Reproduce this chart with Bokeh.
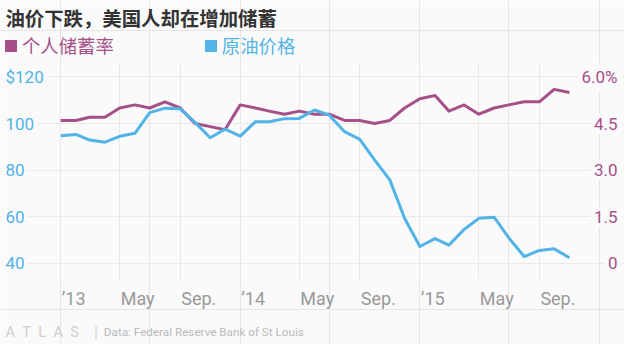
import pandas as pd
from bokeh.plotting import figure
from bokeh.models import Range1d, Grid, FixedTicker, ColumnDataSource, Legend, LegendItem
from bokeh.core.properties import value
from bokeh.embed import file_html
from bokeh.resources import INLINE

# ---------------- data ----------------
months = pd.date_range("2013-01-01", periods=35, freq="MS")
oil_price = [94.8, 95.3, 92.9, 92.0, 94.5, 95.8, 104.7, 106.6, 106.3, 100.5, 93.9, 97.6,
             94.6, 100.8, 100.8, 102.1, 102.2, 105.8, 103.6, 96.5, 93.2, 84.4, 75.8, 59.3,
             47.2, 50.6, 47.8, 54.5, 59.3, 59.8, 50.9, 42.9, 45.5, 46.2, 42.4]
saving_rate = [4.6, 4.6, 4.7, 4.7, 5.0, 5.1, 5.0, 5.2, 5.0, 4.5, 4.4, 4.3,
               5.1, 5.0, 4.9, 4.8, 4.9, 4.8, 4.8, 4.6, 4.6, 4.5, 4.6, 5.0,
               5.3, 5.4, 4.9, 5.1, 4.8, 5.0, 5.1, 5.2, 5.2, 5.6, 5.5]

left_ticks = [40, 60, 80, 100, 120]
left_labels = ["40", "60", "80", "100", "$120"]
right_ticks = [0, 1.5, 3.0, 4.5, 6.0]
right_labels = ["0", "1.5", "3.0", "4.5", "6.0%"]
x_tick_dates = pd.to_datetime(["2013-01-01", "2013-05-01", "2013-09-01",
                               "2014-01-01", "2014-05-01", "2014-09-01",
                               "2015-01-01", "2015-05-01", "2015-09-01"])
x_tick_labels = ["’13", "May", "Sep.", "’14", "May", "Sep.", "’15", "May", "Sep."]

title_text = "油价下跌，美国人却在增加储蓄"
series_names = ["个人储蓄率", "原油价格"]
logo_text = "A\u2002T\u2002L\u2002A\u2002S"
source_text = "Data: Federal Reserve Bank of St Louis"

# ---------------- style / layout ----------------
W, H = 624, 344
SX, SY = W / 640, H / 360          # reference px -> canvas px
BG = "#fafafa"
PURPLE = "#a6508a"
BLUE = "#51b3e6"
GRID = "#e9e9e9"
CJK = "Noto Sans CJK SC"
LAT = "Roboto"

X_JAN13 = 61.7 * SX                       # canvas px of 2013-01-01
PX_PER_DAY = (552.7 - 61.7) * SX / 973    # 2013-01-01 .. 2015-09-01
Y_40 = 275 * SY                           # canvas px of value 40
PX_PER_UNIT = (275 - 80) * SY / 80

jan13 = pd.Timestamp("2013-01-01")
x_start = jan13 - pd.Timedelta(days=X_JAN13 / PX_PER_DAY)
x_end = jan13 + pd.Timedelta(days=(W - X_JAN13) / PX_PER_DAY)


def y_val(c):
    return 40 + (Y_40 - c) / PX_PER_UNIT


y_lo, y_hi = y_val(H), y_val(0)
p = figure(width=W, height=H, x_range=Range1d(x_start, x_end), y_range=Range1d(y_lo, y_hi),
           x_axis_location=None, y_axis_location=None, toolbar_location=None,
           output_backend="svg", min_border=0, background_fill_color=BG,
           border_fill_color=BG, outline_line_color=None)
p.extra_y_ranges = {"pct": Range1d((y_lo - 40) * 6 / 80, (y_hi - 40) * 6 / 80)}

# grids
p.add_layout(Grid(dimension=1, ticker=FixedTicker(ticks=left_ticks),
                  grid_line_color=GRID, grid_line_width=1))
p.add_layout(Grid(dimension=0,
                  ticker=FixedTicker(ticks=[d.value / 1e6 for d in x_tick_dates]),
                  grid_line_color=GRID, grid_line_width=1,
                  cross_bounds=(y_val(292 * SY), y_val(65 * SY))))

# lines
p.line(months, saving_rate, y_range_name="pct", line_color=PURPLE, line_width=3, line_join="round")
p.line(months, oil_price, line_color=BLUE, line_width=3, line_join="round")


def txt(xs, ys, texts, **kw):
    src = ColumnDataSource(dict(x=list(xs), y=list(ys), text=list(texts)))
    return p.text("x", "y", "text", source=src, **kw)


# left tick labels
txt([x_start] * len(left_ticks), left_ticks, left_labels,
    text_font=value(LAT), text_font_size="17px", text_color=BLUE,
    text_align="left", text_baseline="middle",
    background_fill_color=BG, padding=4, x_offset=1)
# right tick labels
txt([x_end] * len(right_ticks), right_ticks, right_labels, y_range_name="pct",
    text_font=value(LAT), text_font_size="17px", text_color=PURPLE,
    text_align="right", text_baseline="middle",
    background_fill_color=BG, padding=4, x_offset=-3)
# x tick labels
txt(x_tick_dates, [y_lo] * len(x_tick_dates), x_tick_labels,
    text_font=value(LAT), text_font_size="18px", text_color="#999999",
    text_align="left", text_baseline="middle", x_offset=1, y_offset=-(H - 311.7 * SY))

# title
txt([x_start], [y_hi], [title_text], text_font=value(CJK), text_font_size="19.4px",
    text_font_style="bold", text_color="#333333", text_align="left",
    text_baseline="middle", x_offset=5 * SX, y_offset=18 * SY)

# footer
fy = -(H - 347 * SY)
txt([x_start], [y_lo], [logo_text], text_font=value(LAT), text_font_size="14.5px",
    text_color="#cfcfcf", text_align="left", text_baseline="middle", x_offset=5 * SX, y_offset=fy)
txt([x_start], [y_lo], ["|"], text_font=value(LAT), text_font_size="16px",
    text_color="#d8d8d8", text_align="left", text_baseline="middle", x_offset=96 * SX, y_offset=fy)
txt([x_start], [y_lo], [source_text], text_font=value(LAT), text_font_size="11.7px",
    text_color="#bbbbbb", text_align="left", text_baseline="middle", x_offset=106 * SX, y_offset=fy)

# legend (two separate legends so each label has its own colour); zero-area swatch glyphs
sw_p = p.quad(left=[x_start], right=[x_start], top=[y_lo], bottom=[y_lo],
              fill_color=PURPLE, line_color=None)
sw_b = p.quad(left=[x_start], right=[x_start], top=[y_lo], bottom=[y_lo],
              fill_color=BLUE, line_color=None)
for name, sw, col, lx in [(series_names[0], sw_p, PURPLE, 2.9), (series_names[1], sw_b, BLUE, 202.8)]:
    lg = Legend(items=[LegendItem(label=value(name), renderers=[sw])], location=(lx, 286),
                orientation="horizontal", glyph_width=15, glyph_height=15, label_standoff=4,
                padding=0, margin=0, spacing=0, border_line_color=None,
                background_fill_alpha=0, label_text_font=CJK, label_text_font_size="18.4px",
                label_text_color=col)
    p.add_layout(lg)

open("out.html", "w").write(file_html(p, INLINE))
